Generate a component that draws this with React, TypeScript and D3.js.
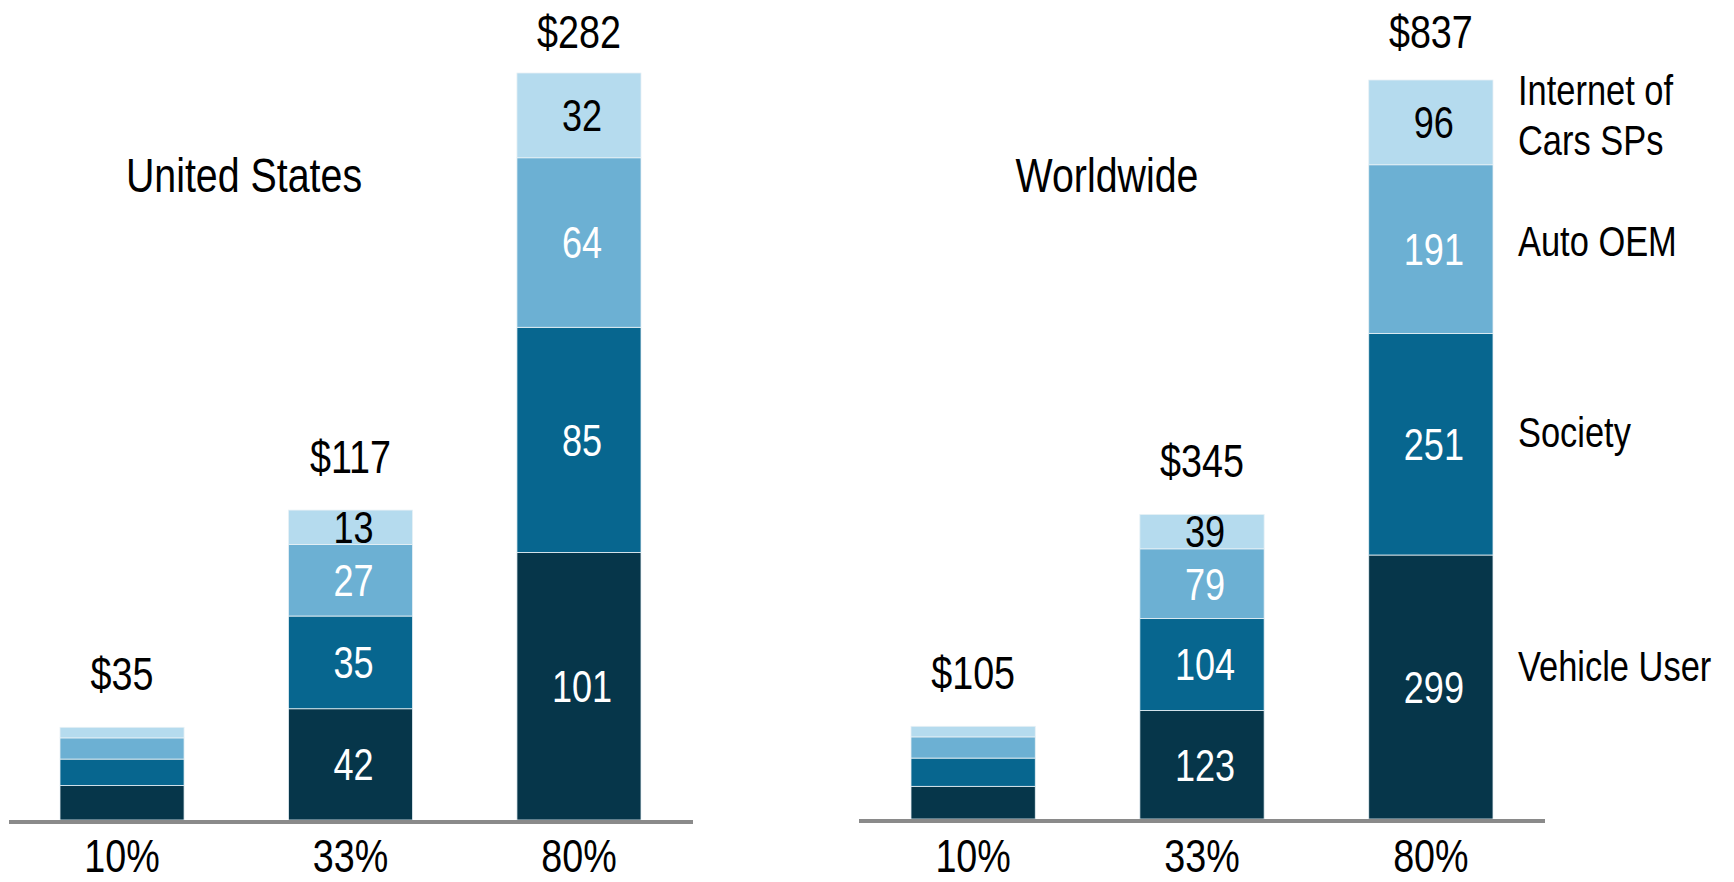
import React from "react";
import * as d3 from "d3";

const categories = ["10%", "33%", "80%"];
const seriesNames = ["Vehicle User", "Society", "Auto OEM", "Internet of Cars SPs"];
const legendLines = [["Vehicle User"], ["Society"], ["Auto OEM"], ["Internet of", "Cars SPs"]];

// values per category: [Vehicle User, Society, Auto OEM, Internet of Cars SPs]
const usVehicleUser = [13, 42, 101];
const usSociety = [10, 35, 85];
const usAutoOEM = [8, 27, 64];
const usIoC = [4, 13, 32];
const usTotals = [35, 117, 282];
const usShowSegmentLabels = [false, true, true];

const wwVehicleUser = [37, 123, 299];
const wwSociety = [32, 104, 251];
const wwAutoOEM = [24, 79, 191];
const wwIoC = [12, 39, 96];
const wwTotals = [105, 345, 837];
const wwShowSegmentLabels = [false, true, true];

const colors = ["#06364a", "#07668f", "#6cb0d3", "#b5dbee"];
const labelColors = ["#ffffff", "#ffffff", "#ffffff", "#000000"];
const FONT = "'Liberation Sans', Arial, sans-serif";
const NARROW = 0.82;

function NText(props: {
  x: number;
  y: number;
  size: number;
  anchor?: "start" | "middle" | "end";
  fill?: string;
  dy?: string;
  children: React.ReactNode;
}) {
  return (
    <g transform={`translate(${props.x},${props.y}) scale(${NARROW},1)`}>
      <text
        x={0}
        y={0}
        dy={props.dy}
        textAnchor={props.anchor || "middle"}
        fontSize={props.size}
        fontFamily={FONT}
        fill={props.fill || "#000"}
      >
        {props.children}
      </text>
    </g>
  );
}

type PanelProps = {
  title: string;
  titleX: number;
  series: number[][];
  totals: number[];
  showLabels: boolean[];
  x0: number;
  x1: number;
  axisX0: number;
  axisX1: number;
  baseY: number;
  topY: number;
  legend?: boolean;
};

function Panel(p: PanelProps) {
  const x = d3.scaleBand<string>().domain(categories).range([p.x0, p.x1]).paddingInner(0.457).paddingOuter(0);
  const y = d3.scaleLinear().domain([0, d3.max(p.totals) as number]).range([p.baseY, p.topY]);
  const rows = categories.map((c, i) => {
    const o: any = { cat: c };
    seriesNames.forEach((s, k) => (o[s] = p.series[k][i]));
    return o;
  });
  const stacked = d3.stack<any>().keys(seriesNames)(rows);
  const bw = x.bandwidth();
  return (
    <g>
      <NText x={p.titleX} y={192} size={48}>
        {p.title}
      </NText>
      {stacked.map((layer, k) => (
        <g key={k}>
          {layer.map((d, i) => {
            const yTop = y(d[1]);
            const yBot = y(d[0]);
            return (
              <g key={i}>
                <rect
                  x={x(categories[i])}
                  y={yTop}
                  width={bw}
                  height={yBot - yTop}
                  fill={colors[k]}
                  stroke="#e8f1f5"
                  strokeWidth={0.8}
                />
                {p.showLabels[i] && (
                  <NText
                    x={(x(categories[i]) as number) + bw / 2 + 3}
                    y={(yTop + yBot) / 2}
                    dy="0.36em"
                    size={44}
                    fill={labelColors[k]}
                  >
                    {p.series[k][i]}
                  </NText>
                )}
              </g>
            );
          })}
        </g>
      ))}
      {p.totals.map((t, i) => {
        const top = y(t);
        return (
          <NText key={"t" + i} x={(x(categories[i]) as number) + bw / 2} y={Math.max(top - 37, 48)} size={46}>
            {"$" + t}
          </NText>
        );
      })}
      <line x1={p.axisX0} x2={p.axisX1} y1={p.baseY + 2} y2={p.baseY + 2} stroke="#8a8a8a" strokeWidth={4} />
      {categories.map((c, i) => (
        <NText key={"c" + i} x={(x(c) as number) + bw / 2} y={872} size={46}>
          {c}
        </NText>
      ))}
      {p.legend &&
        legendLines.map((lines, k) => {
          const last = categories.length - 1;
          const layer = stacked[k][last];
          const h = y(layer[0]) - y(layer[1]);
          const mid = (y(layer[0]) + y(layer[1])) / 2 - (8 + Math.max(0, h - 200) * 0.2);
          const lh = 50;
          return (
            <g key={"l" + k}>
              {lines.map((ln, j) => (
                <NText
                  key={j}
                  x={p.x1 + 25}
                  y={mid + (j - (lines.length - 1) / 2) * lh}
                  dy="0.36em"
                  size={42}
                  anchor="start"
                >
                  {ln}
                </NText>
              ))}
            </g>
          );
        })}
    </g>
  );
}

export default function App() {
  return (
    <svg
      width={1734}
      height={882}
      viewBox="0 0 1734 882"
      style={{ position: "absolute", left: 0, top: 0, display: "block", background: "#fff" }}
    >
      <rect x={0} y={0} width={1734} height={882} fill="#ffffff" />
      <Panel
        title="United States"
        titleX={244}
        series={[usVehicleUser, usSociety, usAutoOEM, usIoC]}
        totals={usTotals}
        showLabels={usShowSegmentLabels}
        x0={60}
        x1={641}
        axisX0={9}
        axisX1={693}
        baseY={820}
        topY={73}
      />
      <Panel
        title="Worldwide"
        titleX={1107}
        series={[wwVehicleUser, wwSociety, wwAutoOEM, wwIoC]}
        totals={wwTotals}
        showLabels={wwShowSegmentLabels}
        x0={911}
        x1={1493}
        axisX0={859}
        axisX1={1545}
        baseY={819}
        topY={80}
        legend
      />
    </svg>
  );
}
